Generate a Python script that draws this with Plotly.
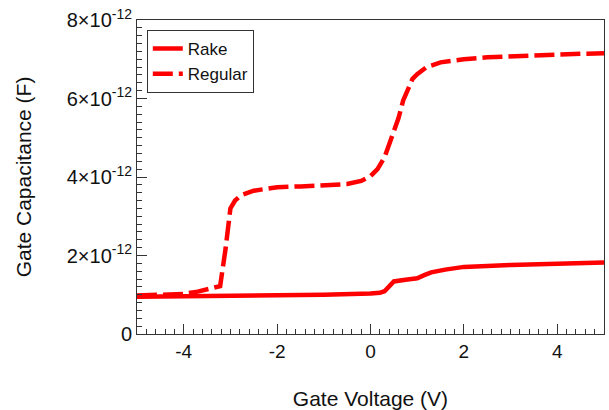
import plotly.graph_objects as go

# Gate voltage (V) and capacitance (pF) for each device
rake_v = [-5, -4, -3, -2, -1, 0, 0.2, 0.3, 0.5, 0.75, 1.0, 1.15, 1.3, 1.6, 2.0, 2.5, 3.0, 4.0, 5.0]
rake_c = [0.95, 0.96, 0.97, 0.98, 1.0, 1.03, 1.05, 1.09, 1.34, 1.38, 1.42, 1.5, 1.57, 1.64, 1.71, 1.73, 1.76, 1.79, 1.82]

reg_v = [-5, -4.5, -4, -3.7, -3.45, -3.22, -3.1, -3.0, -2.9, -2.78, -2.5, -2.2, -2.0, -1.5, -1.0, -0.5, -0.2, 0.0,
         0.15, 0.3, 0.45, 0.6, 0.7, 0.8, 0.9, 1.0, 1.2, 1.5, 2.0, 2.5, 3.0, 3.5, 4.0, 4.5, 5.0]
reg_c = [0.98, 1.0, 1.02, 1.08, 1.15, 1.22, 2.2, 3.2, 3.4, 3.53, 3.65, 3.71, 3.74, 3.76, 3.78, 3.82, 3.9, 4.02,
         4.2, 4.5, 5.0, 5.5, 5.95, 6.25, 6.5, 6.62, 6.8, 6.92, 7.0, 7.05, 7.08, 7.1, 7.12, 7.14, 7.15]

x_ticks = [-4, -2, 0, 2, 4]
x_tick_text = ["-4", "-2", "0", "2", "4"]
y_ticks = [0, 2, 4, 6, 8]
y_tick_text = ["0", "2×10<sup>-12</sup>", "4×10<sup>-12</sup>", "6×10<sup>-12</sup>", "8×10<sup>-12</sup>"]

scale = 1e-12
FONT = "Liberation Sans, Arial, sans-serif"
TXT = "#111111"

fig = go.Figure()
fig.add_trace(go.Scatter(x=rake_v, y=[c * scale for c in rake_c], mode="lines", name="Rake",
                         line=dict(color="#ff0000", width=4.5)))
fig.add_trace(go.Scatter(x=reg_v, y=[c * scale for c in reg_c], mode="lines", name="Regular",
                         line=dict(color="#ff0000", width=4.5, dash="20px,6px")))

axis_common = dict(showline=True, linecolor="#333333", linewidth=1, mirror=True, showgrid=False,
                   zeroline=False, ticks="inside", tickcolor="#333333", tickwidth=1, ticklen=10)

fig.update_xaxes(range=[-5, 5], tickvals=x_ticks, ticktext=x_tick_text,
                 tickfont=dict(family=FONT, size=19, color=TXT),
                 minor=dict(dtick=0.2, ticks="inside", ticklen=5, tickcolor="#333333"),
                 title=dict(text="Gate Voltage (V)", font=dict(family=FONT, size=21, color=TXT),
                            standoff=30),
                 **axis_common)
fig.update_yaxes(range=[0, 8 * scale], tickvals=[t * scale for t in y_ticks], ticktext=y_tick_text,
                 tickfont=dict(family=FONT, size=20, color=TXT),
                 minor=dict(dtick=0.2 * scale, ticks="inside", ticklen=5, tickcolor="#333333"),
                 title=dict(text="Gate Capacitance (F)", font=dict(family=FONT, size=21, color=TXT),
                            standoff=29),
                 **axis_common)

fig.update_layout(
    width=609, height=410,
    margin=dict(l=137, r=4, t=20, b=74),
    paper_bgcolor="white", plot_bgcolor="white",
    showlegend=True,
    legend=dict(x=0.021, y=0.968, xanchor="left", yanchor="top",
                bgcolor="white", bordercolor="#333333", borderwidth=1,
                font=dict(family=FONT, size=17, color=TXT)),
)

fig.write_html("out.html")
